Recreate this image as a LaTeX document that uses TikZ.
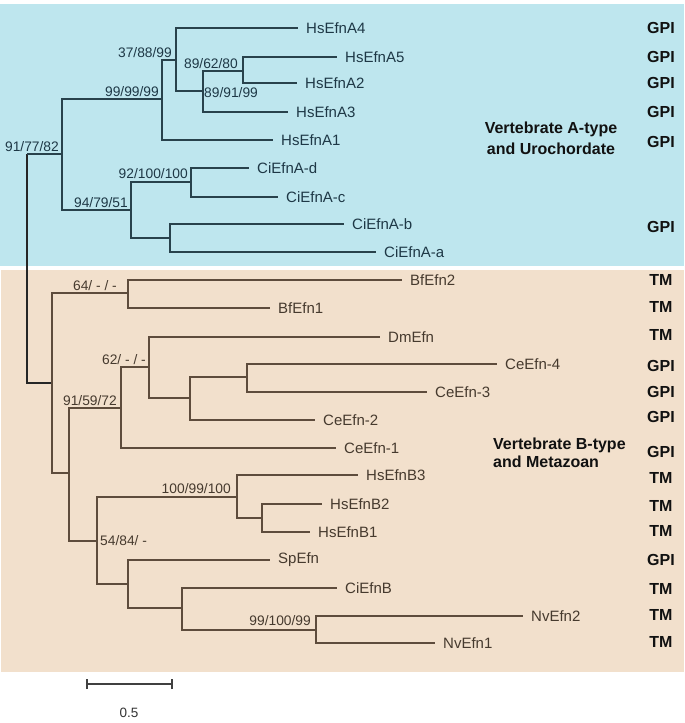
\documentclass[tikz,border=0pt]{standalone}
\usepackage{fontspec}
\setmainfont{Liberation Sans}
\definecolor{bgA}{RGB}{190,230,238}
\definecolor{bgB}{RGB}{242,224,204}
\definecolor{lnA}{RGB}{40,66,76}
\definecolor{lnB}{RGB}{94,76,60}
\definecolor{txA}{RGB}{30,56,70}
\definecolor{txB}{RGB}{70,58,46}
\definecolor{tagc}{RGB}{17,17,17}
\begin{document}
\begin{tikzpicture}[x=1pt,y=-1pt,
  brA/.style={line width=1.2pt, draw=lnA},
  brB/.style={line width=1.2pt, draw=lnB},
  brR/.style={line width=1.2pt, draw=black!85},
  leafA/.style={anchor=west, inner sep=1pt, xshift=7pt, text=txA, font=\fontsize{15}{16}\selectfont},
  leafB/.style={anchor=west, inner sep=1pt, xshift=7pt, text=txB, font=\fontsize{15}{16}\selectfont},
  bsA/.style={anchor=south east, inner sep=1pt, text=txA, font=\fontsize{13.8}{15}\selectfont},
  bsB/.style={anchor=south east, inner sep=1pt, text=txB, font=\fontsize{13.8}{15}\selectfont},
  tag/.style={inner sep=1pt, text=tagc, font=\fontsize{16}{18}\selectfont\bfseries},
  grp/.style={inner sep=1pt, text=tagc, font=\fontsize{16}{18}\selectfont\bfseries}]
\useasboundingbox (0,0) rectangle (685,723);
\fill[bgA] (0,4) rectangle (684,266);
\fill[bgB] (1,270) rectangle (684,672);
% internal nodes
\coordinate (r) at (27,154);
\coordinate (A) at (62,154);
\coordinate (a1) at (162,99);
\coordinate (a11) at (176,60);
\coordinate (a112) at (203,91);
\coordinate (a1121) at (243,71);
\coordinate (a2) at (131,210);
\coordinate (a21) at (191,182);
\coordinate (a22) at (170,238);
\coordinate (B) at (52,383);
\coordinate (b1) at (128,293);
\coordinate (b2) at (69,473);
\coordinate (b21) at (121,408);
\coordinate (b211) at (149,367);
\coordinate (b2112) at (190,398);
\coordinate (b21121) at (247,377);
\coordinate (b22) at (97,541);
\coordinate (b221) at (237,497);
\coordinate (b2212) at (262,518);
\coordinate (b222) at (128,584);
\coordinate (b2222) at (182,608);
\coordinate (b22222) at (316,630);
% leaves
\coordinate (A4) at (298,28);
\coordinate (A5) at (337,57);
\coordinate (A2) at (297,83);
\coordinate (A3) at (288,112);
\coordinate (A1) at (273,140);
\coordinate (Ad) at (249,168);
\coordinate (Ac) at (278,197);
\coordinate (Ab) at (344,224);
\coordinate (Aa) at (376,252);
\coordinate (Bf2) at (402,280);
\coordinate (Bf1) at (270,308);
\coordinate (Dm) at (380,337);
\coordinate (Ce4) at (497,364);
\coordinate (Ce3) at (427,392);
\coordinate (Ce2) at (315,420);
\coordinate (Ce1) at (336,448);
\coordinate (B3) at (358,475);
\coordinate (B2) at (322,504);
\coordinate (B1) at (310,532);
\coordinate (Sp) at (270,560);
\coordinate (CiB) at (337,588);
\coordinate (Nv2) at (523,616);
\coordinate (Nv1) at (435,643);
% branches
\draw[brR] (r) |- (B);
\foreach \p/\c in {r/A, A/a1, A/a2, a1/a11, a1/A1, a11/A4, a11/a112, a112/a1121, a112/A3,
  a1121/A5, a1121/A2, a2/a21, a2/a22, a21/Ad, a21/Ac, a22/Ab, a22/Aa}
  \draw[brA] (\p) |- (\c);
\foreach \p/\c in {B/b1, B/b2, b1/Bf2, b1/Bf1, b2/b21, b2/b22, b21/b211, b21/Ce1,
  b211/Dm, b211/b2112, b2112/b21121, b2112/Ce2, b21121/Ce4, b21121/Ce3,
  b22/b221, b22/b222, b221/B3, b221/b2212, b2212/B2, b2212/B1,
  b222/Sp, b222/b2222, b2222/CiB, b2222/b22222, b22222/Nv2, b22222/Nv1}
  \draw[brB] (\p) |- (\c);
% leaf labels
\node[leafA] (tA4) at (A4) {HsEfnA4};
\node[leafA] (tA5) at (A5) {HsEfnA5};
\node[leafA] (tA2) at (A2) {HsEfnA2};
\node[leafA] (tA3) at (A3) {HsEfnA3};
\node[leafA] (tA1) at (A1) {HsEfnA1};
\node[leafA] (tAd) at (Ad) {CiEfnA-d};
\node[leafA] (tAc) at (Ac) {CiEfnA-c};
\node[leafA] (tAb) at (Ab) {CiEfnA-b};
\node[leafA] (tAa) at (Aa) {CiEfnA-a};
\node[leafB] (tBf2) at (Bf2) {BfEfn2};
\node[leafB] (tBf1) at (Bf1) {BfEfn1};
\node[leafB] (tDm) at (Dm) {DmEfn};
\node[leafB] (tCe4) at (Ce4) {CeEfn-4};
\node[leafB] (tCe3) at (Ce3) {CeEfn-3};
\node[leafB] (tCe2) at (Ce2) {CeEfn-2};
\node[leafB] (tCe1) at (Ce1) {CeEfn-1};
\node[leafB] (tB3) at (B3) {HsEfnB3};
\node[leafB] (tB2) at (B2) {HsEfnB2};
\node[leafB] (tB1) at (B1) {HsEfnB1};
\node[leafB] (tSp) at (Sp) {SpEfn};
\node[leafB] (tCiB) at (CiB) {CiEfnB};
\node[leafB] (tNv2) at (Nv2) {NvEfn2};
\node[leafB] (tNv1) at (Nv1) {NvEfn1};
% bootstrap values
\node[bsA] (s1) at ([xshift=-2pt,yshift=1pt]A) {91/77/82};
\node[bsA] (s2) at ([xshift=-2pt,yshift=1pt]a1) {99/99/99};
\node[bsA] (s3) at ([xshift=-3pt,yshift=1pt]a11) {37/88/99};
\node[bsA] (s4) at ([xshift=-4pt,yshift=1pt]a1121) {89/62/80};
\node[bsA, anchor=west] (s5) at ([xshift=0pt,yshift=-2pt]a112) {89/91/99};
\node[bsA] (s6) at ([xshift=-2pt,yshift=2pt]a21) {92/100/100};
\node[bsA] (s7) at ([xshift=-2pt,yshift=1pt]a2) {94/79/51};
\node[bsB] (s8) at ([xshift=-10pt,yshift=1pt]b1) {64/ - / -};
\node[bsB] (s9) at ([xshift=-2pt,yshift=1pt]b211) {62/ - / -};
\node[bsB] (s10) at ([xshift=-3pt,yshift=1pt]b21) {91/59/72};
\node[bsB] (s11) at ([xshift=-5pt,yshift=2pt]b221) {100/99/100};
\node[bsB, anchor=west] (s12) at ([xshift=2pt]b22) {54/84/ -};
\node[bsB] (s13) at ([xshift=-4pt,yshift=3pt]b22222) {99/100/99};
% membrane anchor tags
\foreach \n/\y/\t in {g1/28/GPI, g2/57/GPI, g3/83/GPI, g4/112/GPI, g5/142/GPI, g6/227/GPI,
  m1/280/TM, m2/307/TM, m3/335/TM, g7/366/GPI, g8/392/GPI, g9/417/GPI, g10/452/GPI,
  m4/478/TM, m5/506/TM, m6/531/TM, g11/560/GPI, m7/589/TM, m8/615/TM, m9/642/TM}
  \node[tag] (\n) at (661,\y) {\t};
% group labels
\node[grp, align=center] (grpA) at (551,138) {Vertebrate A-type\\[3pt]and Urochordate};
\node[grp, align=left, anchor=west] (grpB) at (492,453) {Vertebrate B-type\\and Metazoan};
% scale bar
\coordinate (s0) at (87,684);
\coordinate (s1e) at (172,684);
\draw[line width=1.2pt, draw=black!75] (s0) -- (s1e);
\draw[line width=1.2pt, draw=black!75] ([yshift=-5pt]s0) -- ([yshift=5pt]s0);
\draw[line width=1.2pt, draw=black!75] ([yshift=-5pt]s1e) -- ([yshift=5pt]s1e);
\node[inner sep=1pt, text=black!80, font=\fontsize{13.5}{15}\selectfont] (sl) at (129,713) {0.5};
\end{tikzpicture}
\end{document}
